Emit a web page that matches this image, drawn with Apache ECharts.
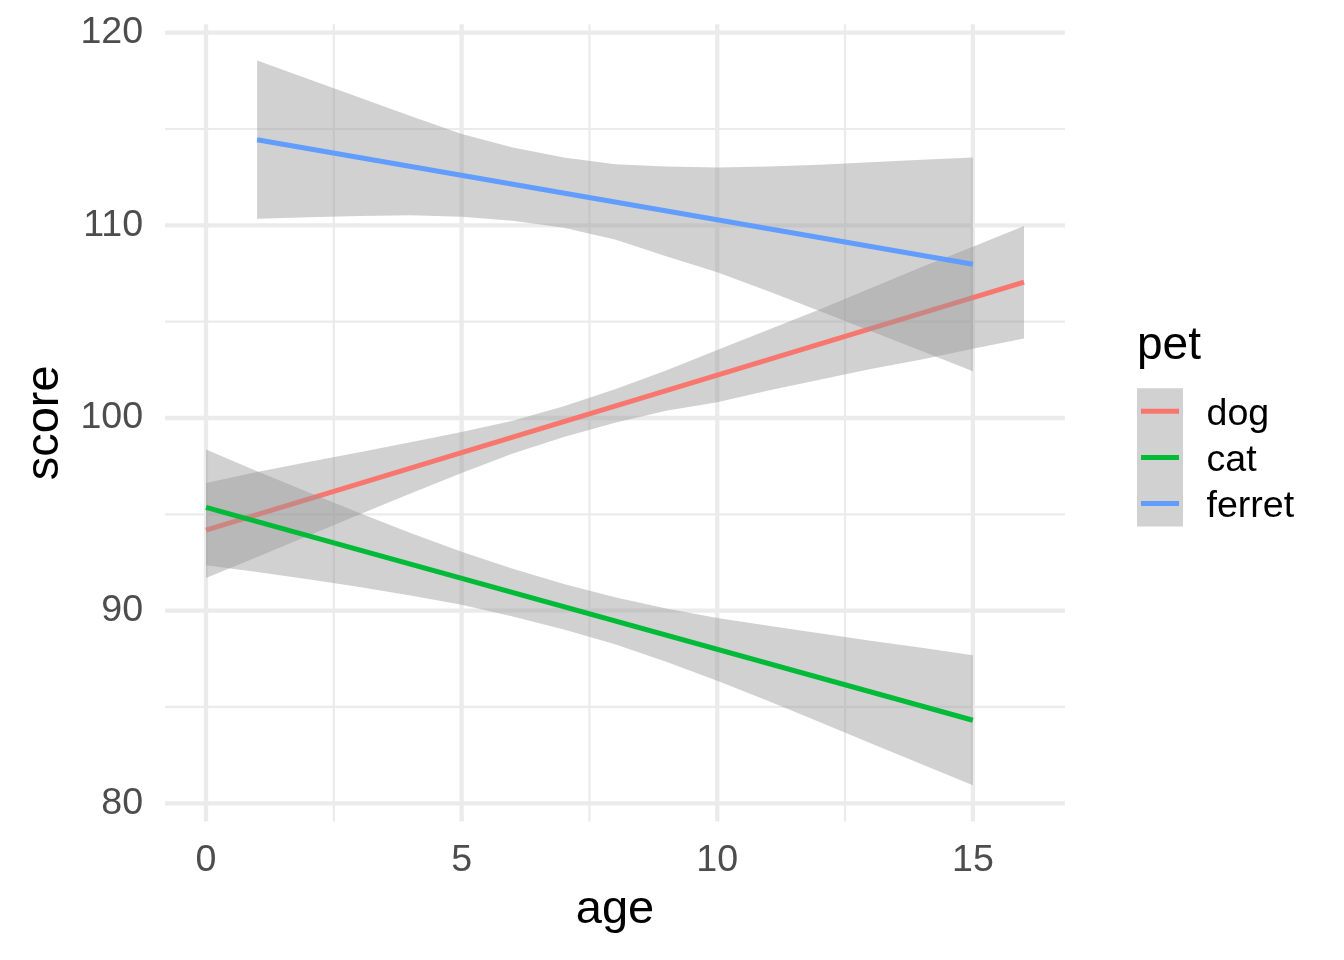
<!DOCTYPE html>
<html>
<head>
<meta charset="utf-8">
<script src="https://cdn.jsdelivr.net/npm/echarts@6/dist/echarts.min.js"></script>
<style>
html,body{margin:0;padding:0;background:#fff;}
#chart{width:1344px;height:960px;}
</style>
</head>
<body>
<div id="chart"></div>
<script>
// ---- data ----
const pets = ['dog', 'cat', 'ferret'];
const petColors = ['#F8766D', '#00BA38', '#619CFF'];

const xMajorTicks = [0, 5, 10, 15];
const xMinorTicks = [2.5, 7.5, 12.5];
const yMajorTicks = [80, 90, 100, 110, 120];
const yMinorTicks = [85, 95, 105, 115];

// fitted lines (endpoints)
const dogFitAge = [0, 16];
const dogFit = [94.18, 107.05];
const catFitAge = [0, 15];
const catFit = [95.36, 84.31];
const ferretFitAge = [1, 15];
const ferretFit = [114.44, 107.98];

// confidence bands
const dogBandAge = [0, 1, 2, 3, 4, 5, 6, 7, 8, 9, 10, 11, 12, 13, 14, 15, 16];
const dogUpper = [96.62, 97.20, 97.72, 98.22, 98.74, 99.27, 99.86, 100.61, 101.49, 102.47, 103.53, 104.58, 105.63, 106.74, 107.84, 108.89, 109.97];
const dogLower = [91.70, 92.78, 93.89, 94.99, 96.08, 97.14, 98.15, 99.01, 99.75, 100.37, 100.82, 101.43, 101.98, 102.54, 103.04, 103.60, 104.12];

const catBandAge = [0, 1, 2, 3, 4, 5, 6, 7, 8, 9, 10, 11, 12, 13, 14, 15];
const catUpper = [98.37, 97.24, 96.15, 95.07, 94.03, 93.06, 92.18, 91.38, 90.69, 90.11, 89.62, 89.21, 88.82, 88.44, 88.07, 87.68];
const catLower = [92.35, 92.00, 91.63, 91.23, 90.79, 90.30, 89.70, 89.02, 88.25, 87.35, 86.36, 85.31, 84.22, 83.12, 82.03, 80.94];

const ferretBandAge = [1, 2, 3, 4, 5, 6, 7, 8, 9, 10, 11, 12, 13, 14, 15];
const ferretUpper = [118.56, 117.59, 116.64, 115.67, 114.74, 114.04, 113.52, 113.17, 113.05, 113.00, 113.05, 113.14, 113.27, 113.40, 113.52];
const ferretLower = [110.34, 110.42, 110.49, 110.52, 110.45, 110.24, 109.88, 109.27, 108.40, 107.57, 106.58, 105.55, 104.52, 103.48, 102.43];

// ---- styling ----
const FONT = 'Liberation Sans, Arial, Helvetica, sans-serif';
const bandFill = 'rgba(153,153,153,0.45)';
const gridColor = '#EBEBEB';
const lineW = 5;
const X_MIN = -0.8, X_MAX = 16.8, Y_MIN = 79.06, Y_MAX = 120.44;

const chart = echarts.init(document.getElementById('chart'), null, {renderer: 'canvas'});

function bandSeries(name, ages, lower, upper, z) {
  return {
    type: 'custom', name: name + ' band', z: z, silent: true, animation: false,
    data: [[ages[0], lower[0]]],
    renderItem: function (params, api) {
      const pts = [];
      for (let i = 0; i < ages.length; i++) pts.push(api.coord([ages[i], upper[i]]));
      for (let i = ages.length - 1; i >= 0; i--) pts.push(api.coord([ages[i], lower[i]]));
      return {type: 'polygon', shape: {points: pts}, style: {fill: bandFill, stroke: null}};
    }
  };
}

function lineSeries(name, ages, vals, color, z) {
  return {
    type: 'line', name: name, z: z, silent: true, animation: false,
    showSymbol: false, symbol: 'none',
    data: ages.map((a, i) => [a, vals[i]]),
    lineStyle: {color: color, width: lineW, cap: 'butt'}
  };
}

const gridSeries = {
  type: 'custom', z: 1, silent: true, animation: false,
  data: [[0, 100]],
  renderItem: function (params, api) {
    const cs = params.coordSys;
    const children = [];
    function vline(v, w) {
      const p = api.coord([v, 100]);
      children.push({type: 'line', shape: {x1: p[0], y1: cs.y, x2: p[0], y2: cs.y + cs.height},
        style: {stroke: gridColor, lineWidth: w}});
    }
    function hline(v, w) {
      const p = api.coord([0, v]);
      children.push({type: 'line', shape: {x1: cs.x, y1: p[1], x2: cs.x + cs.width, y2: p[1]},
        style: {stroke: gridColor, lineWidth: w}});
    }
    yMinorTicks.forEach(v => hline(v, 2.2));
    xMinorTicks.forEach(v => vline(v, 2.2));
    yMajorTicks.forEach(v => hline(v, 4.3));
    xMajorTicks.forEach(v => vline(v, 4.3));
    return {type: 'group', children: children};
  }
};

// legend drawn as graphic
const legendX = 1137, keyTop = 388.3, keyH = 46.1, keyW = 46;
const legendGraphics = [
  {type: 'text', left: legendX, top: 323, style: {text: 'pet', font: '46px ' + FONT, fill: '#000'}},
  {type: 'rect', shape: {x: legendX, y: keyTop, width: keyW, height: keyH * pets.length}, style: {fill: bandFill}}
];
pets.forEach((p, i) => {
  const cy = keyTop + keyH * (i + 0.5);
  legendGraphics.push({type: 'line', shape: {x1: legendX + 4, y1: cy, x2: legendX + keyW - 4, y2: cy},
    style: {stroke: petColors[i], lineWidth: lineW}});
  legendGraphics.push({type: 'text', x: 1206.5, y: cy + 3,
    style: {text: p, font: '37.6px ' + FONT, fill: '#000', verticalAlign: 'middle', align: 'left'}});
});

const option = {
  animation: false,
  backgroundColor: '#fff',
  textStyle: {fontFamily: FONT},
  grid: {left: 165.1, right: 279.1, top: 24.2, bottom: 138.6, containLabel: false},
  xAxis: {
    type: 'value', min: X_MIN, max: X_MAX,
    splitLine: {show: false}, axisLine: {show: false}, axisTick: {show: false},
    axisLabel: {customValues: xMajorTicks, color: '#4D4D4D', fontSize: 37.6, margin: 20, fontFamily: FONT},
    name: 'age', nameLocation: 'middle', nameGap: 65,
    nameTextStyle: {fontSize: 47, color: '#000', fontFamily: FONT}
  },
  yAxis: {
    type: 'value', min: Y_MIN, max: Y_MAX,
    splitLine: {show: false}, axisLine: {show: false}, axisTick: {show: false},
    axisLabel: {customValues: yMajorTicks, color: '#4D4D4D', fontSize: 37.6, margin: 22, fontFamily: FONT,
      padding: [5, 0, 0, 0]},
    name: 'score', nameLocation: 'middle', nameGap: 97, nameRotate: 90,
    nameTextStyle: {fontSize: 47, color: '#000', fontFamily: FONT}
  },
  series: [
    gridSeries,
    bandSeries('dog', dogBandAge, dogLower, dogUpper, 2),
    lineSeries('dog', dogFitAge, dogFit, petColors[0], 3),
    bandSeries('cat', catBandAge, catLower, catUpper, 4),
    lineSeries('cat', catFitAge, catFit, petColors[1], 5),
    bandSeries('ferret', ferretBandAge, ferretLower, ferretUpper, 6),
    lineSeries('ferret', ferretFitAge, ferretFit, petColors[2], 7)
  ],
  graphic: legendGraphics
};
chart.setOption(option);
</script>
</body>
</html>
